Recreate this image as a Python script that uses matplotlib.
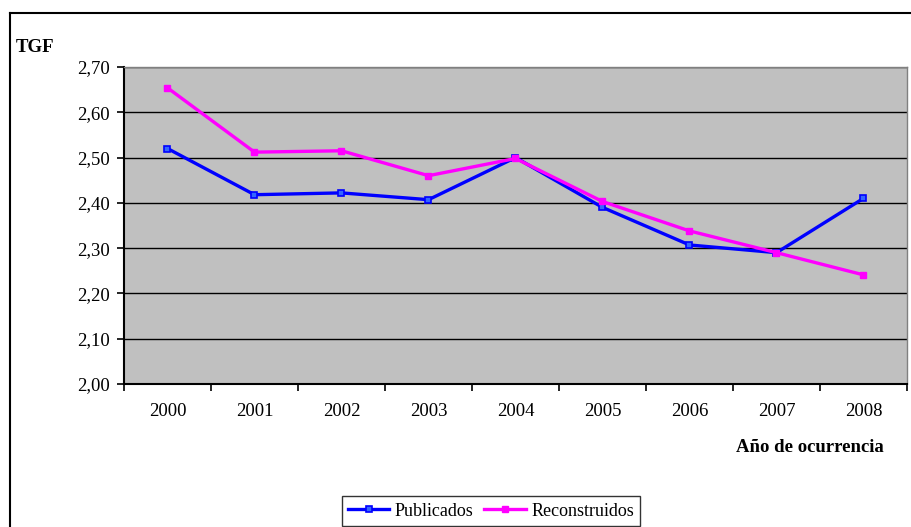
import matplotlib
matplotlib.use("Agg")
import matplotlib.pyplot as plt
from matplotlib.lines import Line2D
from matplotlib.ticker import FixedLocator, FuncFormatter

years = ["2000", "2001", "2002", "2003", "2004", "2005", "2006", "2007", "2008"]
publicados = [2.52, 2.418, 2.422, 2.407, 2.50, 2.39, 2.307, 2.29, 2.41]
reconstruidos = [2.654, 2.512, 2.515, 2.46, 2.498, 2.403, 2.338, 2.29, 2.241]
y_ticks = [2.00, 2.10, 2.20, 2.30, 2.40, 2.50, 2.60, 2.70]

plt.rcParams["font.family"] = ["Liberation Serif", "DejaVu Serif"]

W, H = 911, 527
fig = plt.figure(figsize=(W / 100, H / 100), dpi=100)

# outer chart border (only left and top visible in the crop)
fig.add_artist(Line2D([10 / W, 10 / W], [0, 1 - 13 / H], color="black", lw=1.5, transform=fig.transFigure))
fig.add_artist(Line2D([10 / W, 1], [1 - 13 / H, 1 - 13 / H], color="black", lw=1.5, transform=fig.transFigure))

ax = fig.add_axes([124 / W, 1 - 384 / H, (907 - 124) / W, (384 - 67) / H])
ax.set_facecolor("#c0c0c0")

x = list(range(len(years)))
ax.plot(x, publicados, color="#0000ff", lw=2.4, marker="s", ms=5,
        mfc="#3366ff", mec="#0000ff", mew=1.2, label="Publicados", zorder=3)
ax.plot(x, reconstruidos, color="#ff00ff", lw=2.4, marker="s", ms=5,
        mfc="#ff00ff", mec="#ff00ff", label="Reconstruidos", zorder=3)

ax.set_xlim(-0.5, len(years) - 0.5)
ax.set_ylim(2.0, 2.7)
ax.set_yticks(y_ticks)
ax.yaxis.set_major_formatter(FuncFormatter(lambda v, p: f"{v:.2f}".replace(".", ",")))
ax.yaxis.grid(True, color="black", lw=1.0)
ax.set_axisbelow(True)

ax.set_xticks(x)
ax.set_xticklabels(years)
ax.xaxis.set_minor_locator(FixedLocator([i - 0.5 for i in range(len(years) + 1)]))
ax.tick_params(axis="x", which="major", length=0, pad=14, labelsize=13.5)
ax.tick_params(axis="x", which="minor", length=5, width=1.2, direction="out")
ax.tick_params(axis="y", length=5, width=1.2, direction="out", pad=5, labelsize=13.5)

for side in ("left", "bottom"):
    ax.spines[side].set_color("black")
    ax.spines[side].set_linewidth(1.5)
for side in ("right", "top"):
    ax.spines[side].set_color("#808080")
    ax.spines[side].set_linewidth(1.0)

fig.text(16 / W, 1 - 47 / H, "TGF", fontsize=13.5, fontweight="bold", ha="left", va="center")
fig.text(884 / W, 1 - 447 / H, "Año de ocurrencia", fontsize=13.5, fontweight="bold",
         ha="right", va="center")

leg = fig.legend(loc="center", bbox_to_anchor=(491 / W, 1 - 511 / H), ncol=2,
                 fontsize=13, frameon=True, fancybox=False, edgecolor="black",
                 handlelength=2.3, handletextpad=0.3, columnspacing=0.6,
                 borderpad=0.35, markerscale=0.8)
leg.get_frame().set_linewidth(1.0)

fig.savefig("out.png", dpi=100)
